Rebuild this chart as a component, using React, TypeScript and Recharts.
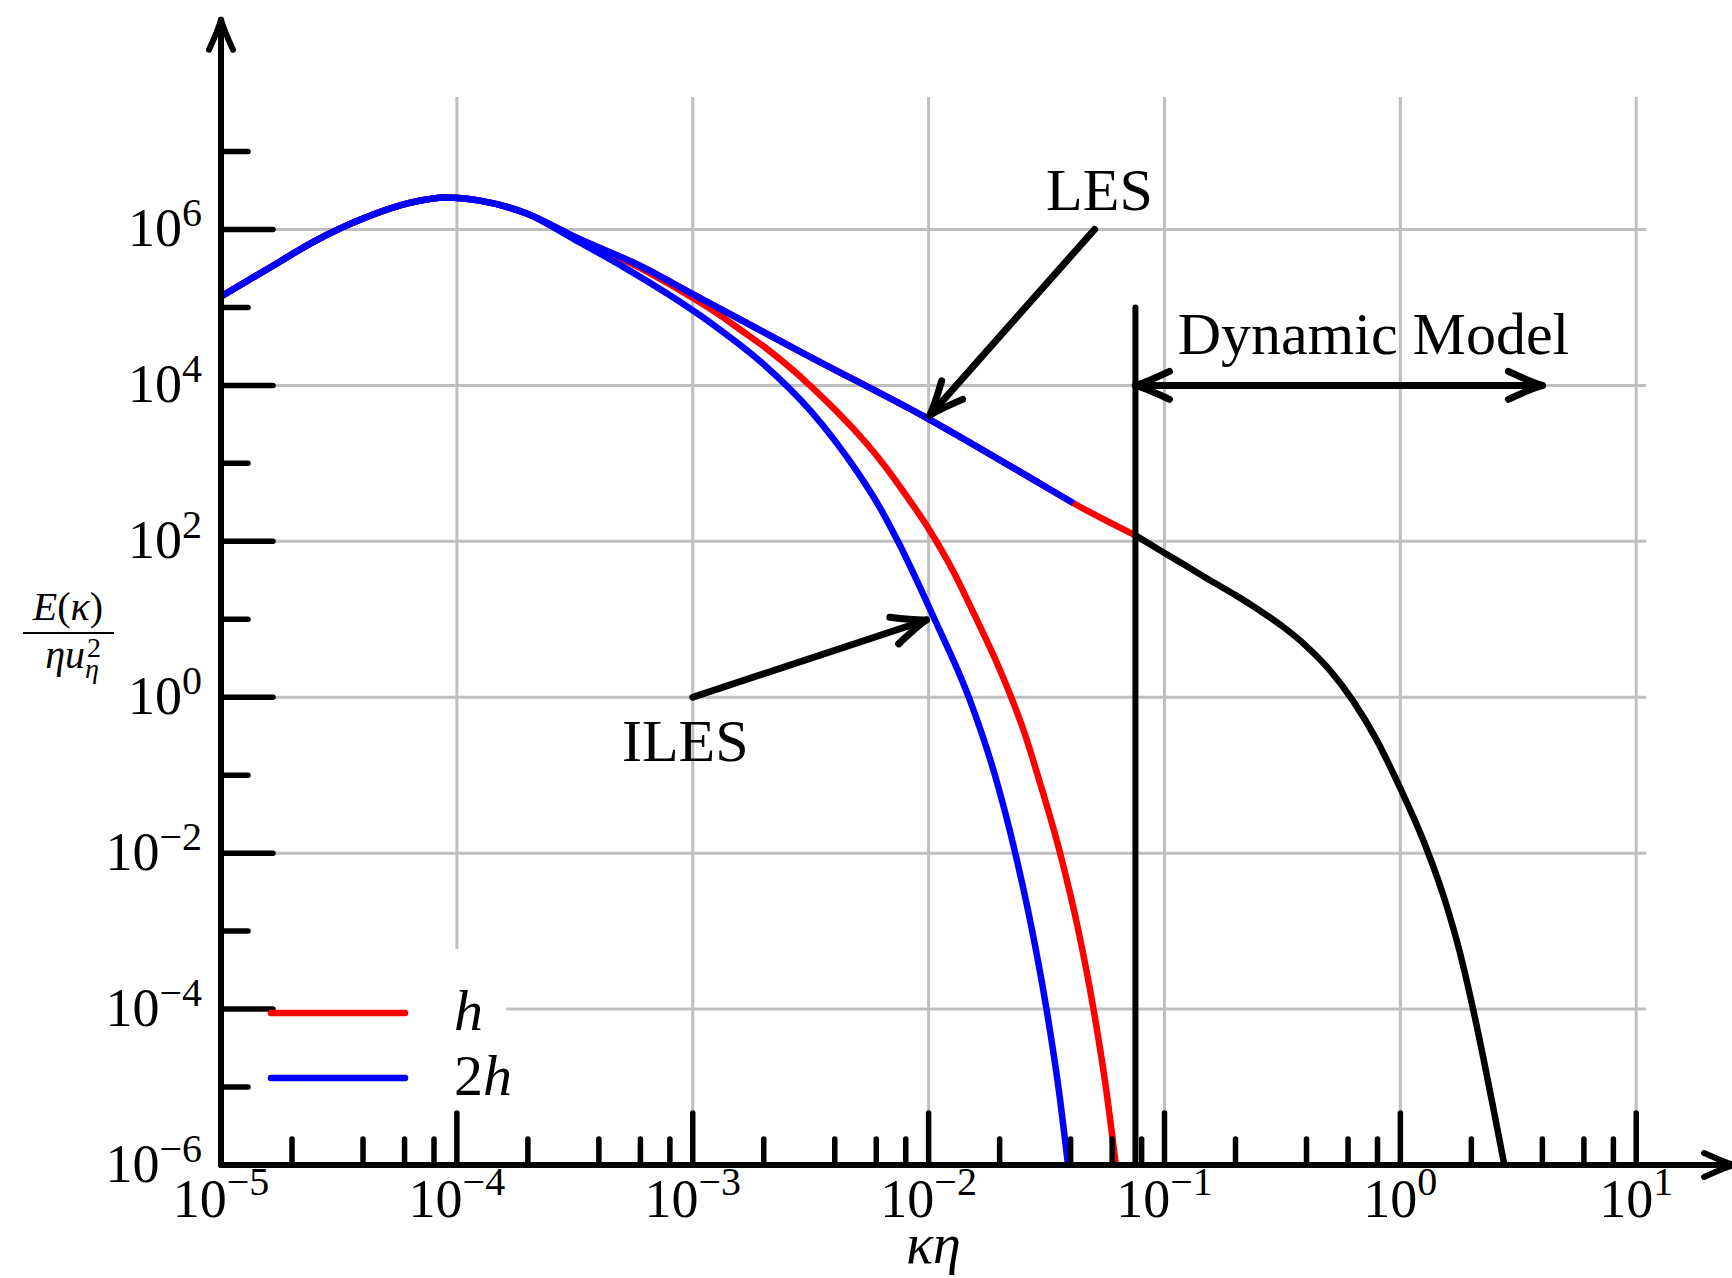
import {
  LineChart,
  Line,
  XAxis,
  YAxis,
  CartesianGrid,
  ReferenceLine,
  ReferenceDot,
  ReferenceArea,
  Legend,
} from "recharts";

const SERIF = '"Liberation Serif", "Times New Roman", serif';
const RED = "#ff0000";
const BLUE = "#0000ff";
const GRID = "#bfbfbf";

const X_MIN = 1e-5;
const X_MAX = 11;
const Y_MIN = 1e-6;
const Y_MAX = 5e7;

// axis ticks
const xDecades = [1e-5, 1e-4, 1e-3, 1e-2, 1e-1, 1, 10];
const xMinorSteps = [2, 4, 6, 8];
const yDecades = [1e-6, 1e-5, 1e-4, 1e-3, 1e-2, 1e-1, 1, 10, 1e2, 1e3, 1e4, 1e5, 1e6, 1e7];
const xGrid = [1e-4, 1e-3, 1e-2, 1e-1, 1, 10];
const yGrid = [1e-4, 1e-2, 1, 1e2, 1e4, 1e6];

// resolved spectrum (LES), shared by both grids up to their cutoff
const lesK = [1e-5, 1.6e-5, 2.5e-5, 4e-5, 6.3e-5, 9e-5, 1.25e-4, 2e-4, 3.2e-4, 6e-4, 1e-3, 3e-3, 1e-2, 3e-2, 4.1e-2, 7.5e-2];
const lesE = [1.38e5, 3.2e5, 7.1e5, 1.38e6, 2.19e6, 2.57e6, 2.34e6, 1.58e6, 7.9e5, 3.4e5, 1.48e5, 2.5e4, 3.7e3, 5.4e2, 3.1e2, 1.2e2];
const cutoffH = 7.5e-2;
const cutoff2h = 4.1e-2;

// implicit LES, spacing h
const ilesHK = [1e-5, 1.6e-5, 2.5e-5, 4e-5, 6.3e-5, 9e-5, 1.25e-4, 2e-4, 3.16e-4, 3.98e-4, 5.01e-4, 6.31e-4, 7.94e-4, 1e-3, 1.26e-3, 1.58e-3, 2.0e-3, 2.51e-3, 3.16e-3, 3.98e-3, 5.01e-3, 6.31e-3, 7.94e-3, 1e-2, 1.26e-2, 1.58e-2, 2.0e-2, 2.24e-2, 2.55e-2, 2.9e-2, 3.61e-2, 4.32e-2, 5.0e-2, 5.64e-2, 6.22e-2];
const ilesHE = [1.38e5, 3.2e5, 7.1e5, 1.38e6, 2.19e6, 2.57e6, 2.34e6, 1.58e6, 7.76e5, 5.75e5, 4.17e5, 2.95e5, 2.0e5, 1.32e5, 8.5e4, 5.25e4, 3.16e4, 1.82e4, 9.8e3, 5.0e3, 2.4e3, 1.05e3, 4.07e2, 1.45e2, 43.6, 10.7, 2.29, 1.0, 0.347, 0.1, 1e-2, 1e-3, 1e-4, 1e-5, 1e-6];

// implicit LES, spacing 2h
const iles2hK = [1e-5, 1.6e-5, 2.5e-5, 4e-5, 6.3e-5, 9e-5, 1.25e-4, 2e-4, 3.16e-4, 5.01e-4, 7.94e-4, 1.26e-3, 2.0e-3, 3.16e-3, 3.98e-3, 5.01e-3, 6.31e-3, 7.41e-3, 1.06e-2, 1.48e-2, 1.91e-2, 2.33e-2, 2.75e-2, 3.16e-2, 3.55e-2, 3.9e-2];
const iles2hE = [1.38e5, 3.2e5, 7.1e5, 1.38e6, 2.19e6, 2.57e6, 2.34e6, 1.58e6, 7.4e5, 3.39e5, 1.45e5, 5.6e4, 1.86e4, 4.7e3, 2.0e3, 7.6e2, 2.5e2, 1e2, 10, 1.0, 0.1, 1e-2, 1e-3, 1e-4, 1e-5, 1e-6];

// modelled range beyond the grid cutoff
const modelK = [7.5e-2, 0.1, 0.126, 0.158, 0.2, 0.251, 0.316, 0.398, 0.501, 0.631, 0.794, 1.0, 1.26, 1.58, 1.78, 2.0, 2.24, 2.51, 2.76];
const modelE = [1.2e2, 70.8, 46.8, 30.9, 20.4, 13.2, 8.13, 4.57, 2.24, 0.891, 0.282, 6.76e-2, 1.38e-2, 2.0e-3, 5.6e-4, 1.26e-4, 2.5e-5, 4.4e-6, 1e-6];

// annotations
const yAxisTip = 4.9e8;
const xAxisTip = 26;
const dynamicSpan = [7.53e-2, 4.0];
const dynamicLevel = 1e4;
const cutoffLineTop = 1e5;
const lesArrow = [{ x: 0.0505, y: 1e6 }, { x: 0.0101, y: 4.1e3 }];
const ilesArrow = [{ x: 1e-3, y: 1 }, { x: 0.0098, y: 9.8 }];
const notes = [
  { text: "LES", x: 0.053, y: 1.8e6 },
  { text: "ILES", x: 9.3e-4, y: 0.151 },
  { text: "Dynamic Model", x: 0.769, y: 2.5e4 },
];
const legendOrder = ["h", "2h"];

const toPoints = (k: number[], e: number[]) => k.map((v, i) => ({ k: v, E: e[i] }));
const lesPts = toPoints(lesK, lesE);
const lesHPts = lesPts.filter((p) => p.k <= cutoffH);
const les2hPts = lesPts.filter((p) => p.k <= cutoff2h);
const ilesHPts = toPoints(ilesHK, ilesHE);
const iles2hPts = toPoints(iles2hK, iles2hE);
const modelPts = toPoints(modelK, modelE);

const xTicks = xDecades.flatMap((d) => (d < 10 ? [d, ...xMinorSteps.map((s) => s * d)] : [d]));

const expLabel = (p: number) => (p < 0 ? "\u2212" + -p : String(p));

const YTick = ({ x, y, payload }: any) => {
  const p = Math.round(Math.log10(payload.value));
  const major = p % 2 === 0;
  return (
    <g>
      <line x1={x} x2={x + (major ? 52 : 27)} y1={y} y2={y} stroke="#000" strokeWidth={5.5} strokeLinecap="round" />
      {major && (
        <text x={x - 19} y={y + 17} textAnchor="end" fontFamily={SERIF} fontSize={54} fill="#000">
          10<tspan dy={-20} fontSize={40}>{expLabel(p)}</tspan>
        </text>
      )}
    </g>
  );
};

const XTick = ({ x, y, payload }: any) => {
  const lg = Math.log10(payload.value);
  const p = Math.round(lg);
  const major = Math.abs(lg - p) < 1e-6;
  return (
    <g>
      <line x1={x} x2={x} y1={y} y2={y - (major ? 52 : 26)} stroke="#000" strokeWidth={5.5} strokeLinecap="round" />
      {major && (
        <text x={x} y={y + 52} textAnchor="middle" fontFamily={SERIF} fontSize={54} fill="#000">
          10<tspan dy={-22} fontSize={40}>{expLabel(p)}</tspan>
        </text>
      )}
    </g>
  );
};

const XTitle = ({ viewBox }: any) => (
  <text
    x={viewBox.x + viewBox.width / 2}
    y={viewBox.y + 98}
    textAnchor="middle"
    fontFamily={SERIF}
    fontSize={56}
    fontStyle="italic"
  >
    κη
  </text>
);

const YTitle = ({ viewBox }: any) => {
  const cx = viewBox.x + 68;
  const cy = viewBox.y + viewBox.height / 2 + 2;
  return (
    <g fontFamily={SERIF} fill="#000">
      <text x={cx} y={cy - 13} textAnchor="middle" fontSize={40}>
        <tspan fontStyle="italic">E</tspan>(<tspan fontStyle="italic">κ</tspan>)
      </text>
      <line x1={cx - 45} x2={cx + 46} y1={cy} y2={cy} stroke="#000" strokeWidth={2.2} />
      <text x={cx + 17} y={cy + 35} textAnchor="end" fontSize={40} fontStyle="italic">
        ηu
      </text>
      <text x={cx + 19} y={cy + 24} fontSize={28}>
        2
      </text>
      <text x={cx + 17} y={cy + 45} fontSize={28} fontStyle="italic">
        η
      </text>
    </g>
  );
};

// open LaTeX-style arrow head, pointing along ang
const headPath = (x: number, y: number, ang: number, len: number, half: number) => {
  const c = Math.cos(ang);
  const s = Math.sin(ang);
  const pt = (b: number, l: number) => `${x - c * b - s * l},${y - s * b + c * l}`;
  return `M${pt(len, half)} Q${pt(len * 0.3, half * 0.2)} ${x},${y} Q${pt(len * 0.3, -half * 0.2)} ${pt(len, -half)}`;
};

const Arrow = ({ x1, y1, x2, y2, both = false, len = 34, half = 14, width = 7 }: any) => {
  const ang = Math.atan2(y2 - y1, x2 - x1);
  return (
    <g fill="none" stroke="#000" strokeWidth={width} strokeLinecap="round" strokeLinejoin="round">
      <line x1={x1} y1={y1} x2={x2} y2={y2} />
      <path d={headPath(x2, y2, ang, len, half)} />
      {both && <path d={headPath(x1, y1, ang + Math.PI, len, half)} />}
    </g>
  );
};

const Note = ({ cx, cy, text }: any) => (
  <text x={cx} y={cy} textAnchor="middle" fontFamily={SERIF} fontSize={60} fill="#000">
    {text}
  </text>
);

const mathLabel = (value: string) => {
  const m = value.match(/^(\d*)(\D+)$/);
  if (!m) return value;
  return (
    <>
      {m[1]}
      <tspan fontStyle="italic">{m[2]}</tspan>
    </>
  );
};

const LegendBox = ({ payload }: any) => {
  const items = legendOrder
    .map((name) => (payload || []).find((p: any) => p.value === name && p.type !== "none"))
    .filter(Boolean);
  return (
    <svg width={270} height={150} style={{ display: "block", overflow: "visible" }}>
      {items.map((item: any, i: number) => (
        <g key={item.value}>
          <line x1={6} x2={140} y1={20 + i * 65} y2={20 + i * 65} stroke={item.color} strokeWidth={6.5} strokeLinecap="round" />
          <text x={189} y={37 + i * 65} fontFamily={SERIF} fontSize={58} fill="#000">
            {mathLabel(item.value)}
          </text>
        </g>
      ))}
    </svg>
  );
};

const lineProps = {
  dataKey: "E",
  type: "monotone" as const,
  strokeWidth: 6.5,
  dot: false,
  activeDot: false,
  isAnimationActive: false,
};

export default function App() {
  return (
    <div style={{ position: "absolute", left: 0, top: 0, width: 1732, height: 1278, background: "#fff", fontFamily: SERIF }}>
      <LineChart width={1732} height={1278} margin={{ top: 97, right: 86, bottom: 0, left: 0 }}>
        <CartesianGrid stroke={GRID} strokeWidth={3} horizontalValues={yGrid} verticalValues={xGrid} />
        <ReferenceArea x1={X_MIN} x2={1.62e-4} y1={3.9e-6} y2={5.9e-4} fill="#fff" fillOpacity={1} stroke="none" />
        <XAxis
          type="number"
          dataKey="k"
          scale="log"
          domain={[X_MIN, X_MAX]}
          allowDataOverflow
          ticks={xTicks}
          interval={0}
          tick={<XTick />}
          tickLine={false}
          axisLine={false}
          tickSize={0}
          tickMargin={0}
          height={113}
          label={<XTitle />}
        />
        <YAxis
          type="number"
          scale="log"
          domain={[Y_MIN, Y_MAX]}
          allowDataOverflow
          ticks={yDecades}
          interval={0}
          tick={<YTick />}
          tickLine={false}
          axisLine={false}
          tickSize={0}
          tickMargin={0}
          width={221}
          label={<YTitle />}
        />
        <Line {...lineProps} data={modelPts} stroke="#000" name="model" legendType="none" />
        <Line {...lineProps} data={lesHPts} stroke={RED} name="h" />
        <Line {...lineProps} data={ilesHPts} stroke={RED} name="h (ILES)" legendType="none" />
        <Line {...lineProps} data={les2hPts} stroke={BLUE} name="2h" />
        <Line {...lineProps} data={iles2hPts} stroke={BLUE} name="2h (ILES)" legendType="none" />

        {/* axes drawn as arrows */}
        <ReferenceLine
          segment={[{ x: X_MIN, y: Y_MIN }, { x: X_MIN, y: yAxisTip }]}
          ifOverflow="visible"
          shape={(p: any) => <Arrow {...p} len={30} half={12} width={6} />}
        />
        <ReferenceLine
          segment={[{ x: X_MIN, y: Y_MIN }, { x: xAxisTip, y: Y_MIN }]}
          ifOverflow="visible"
          shape={(p: any) => <Arrow {...p} len={30} half={12} width={6} />}
        />

        {/* grid cutoff and modelled range */}
        <ReferenceLine
          segment={[{ x: dynamicSpan[0], y: Y_MIN }, { x: dynamicSpan[0], y: cutoffLineTop }]}
          ifOverflow="visible"
          stroke="#000"
          strokeWidth={6}
          strokeLinecap="round"
        />
        <ReferenceLine
          segment={[{ x: dynamicSpan[0], y: dynamicLevel }, { x: dynamicSpan[1], y: dynamicLevel }]}
          ifOverflow="visible"
          shape={(p: any) => <Arrow {...p} both />}
        />
        <ReferenceLine segment={lesArrow} ifOverflow="visible" shape={(p: any) => <Arrow {...p} />} />
        <ReferenceLine segment={ilesArrow} ifOverflow="visible" shape={(p: any) => <Arrow {...p} />} />

        {notes.map((n) => (
          <ReferenceDot key={n.text} x={n.x} y={n.y} r={0} ifOverflow="visible" shape={(p: any) => <Note {...p} text={n.text} />} />
        ))}

        <Legend
          layout="vertical"
          align="center"
          verticalAlign="middle"
          wrapperStyle={{ left: 265, top: 993, width: 270 }}
          content={<LegendBox />}
        />
      </LineChart>
    </div>
  );
}
